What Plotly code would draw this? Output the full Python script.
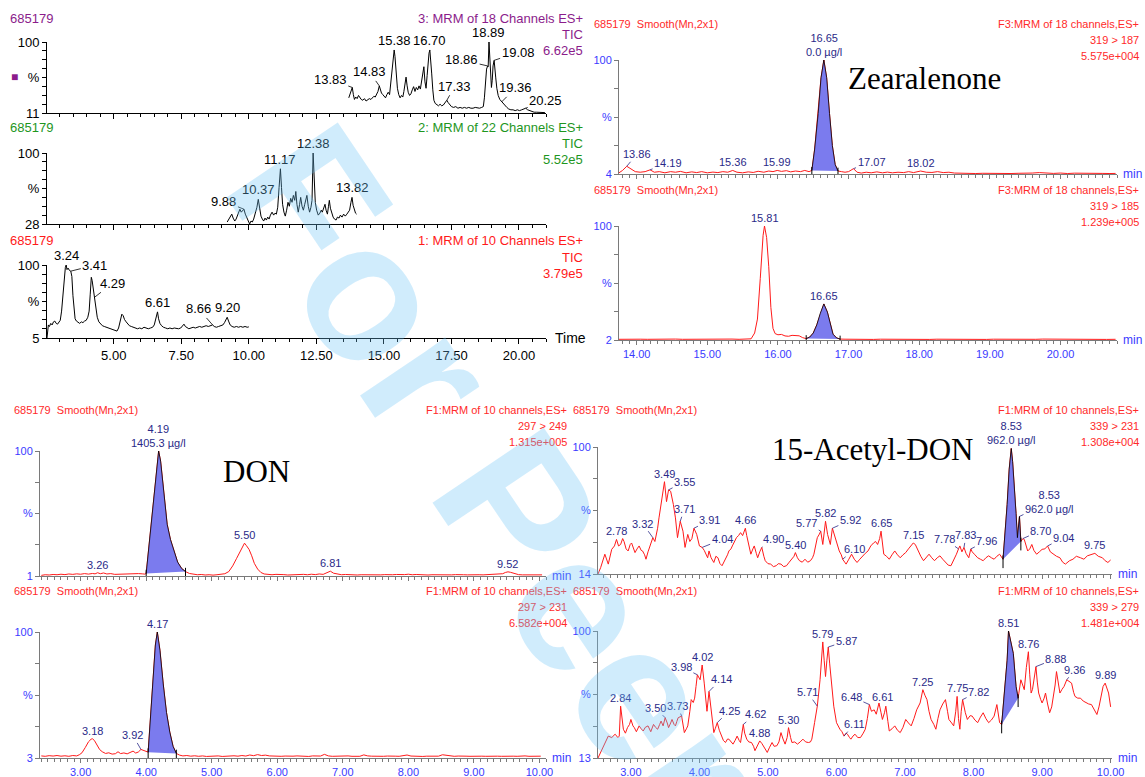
import plotly.graph_objects as go

W, H = 1145, 777

# ---------------- data (time in min, relative intensity %) ----------------
TIC3 = [(13.70,30),(13.75,36),(13.80,40),(13.83,43),(13.87,34),(13.91,28),(13.96,31),(14.01,29),(14.06,33),(14.11,30),
        (14.16,28),(14.22,27),(14.28,29),(14.34,26),(14.40,27),(14.46,29),(14.52,28),(14.58,30),(14.63,32),(14.68,31),
        (14.73,35),(14.78,38),(14.83,45),(14.87,40),(14.91,36),(14.96,34),(15.01,32),(15.06,30),(15.11,34),(15.16,37),
        (15.21,34),(15.26,50),(15.31,72),(15.35,86),(15.38,90),(15.41,82),(15.45,62),(15.50,42),(15.55,34),(15.60,30),
        (15.65,33),(15.70,31),(15.74,38),(15.78,50),(15.82,56),(15.86,45),(15.90,37),(15.95,33),(16.00,35),(16.05,40),
        (16.10,44),(16.15,38),(16.20,43),(16.25,40),(16.30,45),(16.35,41),(16.40,52),(16.44,64),(16.48,69),(16.52,50),
        (16.56,42),(16.60,58),(16.64,78),(16.67,86),(16.70,90),(16.73,80),(16.77,60),(16.81,40),(16.85,27),(16.90,23),
        (16.96,21),(17.02,20),(17.08,22),(17.14,20),(17.20,21),(17.26,24),(17.33,27),(17.38,24),(17.44,21),(17.50,19),
        (17.58,18),(17.66,19),(17.74,17),(17.82,18),(17.90,17),(17.98,18),(18.06,17),(18.14,18),(18.22,17),(18.30,17),
        (18.38,18),(18.46,17),(18.54,17),(18.62,18),(18.68,19),(18.72,30),(18.76,52),(18.80,66),(18.84,70),(18.86,69),
        (18.89,100),(18.92,80),(18.95,55),(18.98,43),(19.01,52),(19.04,70),(19.08,77),(19.11,62),(19.14,55),(19.18,42),
        (19.23,33),(19.29,28),(19.36,25),(19.42,23),(19.48,20),(19.55,18),(19.62,16),(19.70,15),(19.78,15),(19.86,14),
        (19.94,15),(20.02,14),(20.10,15),(20.18,16),(20.25,17),(20.32,15),(20.40,14),(20.48,13),(20.56,12),(20.64,12),
        (20.72,12),(20.80,11.5),(20.88,11.5),(20.96,11.5)]

TIC2 = [(9.20,30),(9.26,33),(9.32,36),(9.37,38),(9.42,34),(9.48,31),(9.53,33),(9.58,37),(9.63,42),(9.67,43),
        (9.72,40),(9.77,42),(9.82,43),(9.87,38),(9.93,34),(9.98,30),(10.03,28),(10.08,31),(10.13,30),(10.18,33),
        (10.24,38),(10.30,45),(10.35,53),(10.40,42),(10.45,36),(10.50,33),(10.55,31),(10.60,34),(10.65,32),(10.70,35),
        (10.75,33),(10.80,37),(10.86,40),(10.92,37),(10.97,39),(11.02,38),(11.07,45),(11.12,65),(11.17,84),(11.21,65),
        (11.25,48),(11.30,40),(11.35,36),(11.40,42),(11.45,50),(11.50,46),(11.55,54),(11.60,50),(11.65,57),(11.70,52),
        (11.74,61),(11.78,48),(11.83,40),(11.88,48),(11.92,55),(11.97,46),(12.02,42),(12.07,48),(12.11,52),(12.15,57),
        (12.20,46),(12.25,40),(12.30,45),(12.34,52),(12.38,100),(12.42,70),(12.46,50),(12.51,42),(12.57,37),(12.63,39),
        (12.68,42),(12.72,40),(12.77,44),(12.82,48),(12.86,42),(12.91,38),(12.95,46),(12.98,52),(13.02,44),(13.07,38),
        (13.12,35),(13.17,33),(13.23,32),(13.28,35),(13.34,34),(13.39,37),(13.45,35),(13.51,38),(13.57,36),(13.63,38),
        (13.68,40),(13.73,42),(13.78,50),(13.82,55),(13.86,47),(13.90,42),(13.95,39),(13.99,38)]

TIC1 = [(2.53,5),(2.55,20),(2.58,22),(2.62,20),(2.67,24),(2.72,22),(2.77,26),(2.82,27),(2.87,24),(2.92,23),
        (2.97,25),(3.02,28),(3.07,40),(3.12,62),(3.17,85),(3.21,97),(3.24,100),(3.27,94),(3.31,96),(3.36,93),
        (3.41,92),(3.45,85),(3.49,60),(3.53,42),(3.57,30),(3.62,27),(3.68,25),(3.74,24),(3.80,26),(3.86,25),
        (3.92,27),(3.98,28),(4.04,32),(4.09,40),(4.13,62),(4.17,84),(4.20,80),(4.24,70),(4.29,58),(4.34,45),
        (4.39,32),(4.45,26),(4.51,23),(4.58,21),(4.65,20),(4.72,19),(4.80,18),(4.88,17),(4.96,16),(5.04,15),
        (5.12,14),(5.18,18),(5.24,28),(5.30,36),(5.35,34),(5.40,29),(5.46,26),(5.52,24),(5.58,21),(5.65,20),
        (5.72,19),(5.80,18),(5.88,17),(5.96,18),(6.04,17),(6.12,19),(6.20,18),(6.28,17),(6.36,18),(6.44,19),
        (6.50,22),(6.55,30),(6.59,37),(6.62,39),(6.66,30),(6.71,24),(6.77,21),(6.84,19),(6.92,18),(7.00,17),
        (7.08,18),(7.16,17),(7.24,18),(7.32,17),(7.40,17),(7.48,18),(7.54,20),(7.60,23),(7.65,20),(7.71,18),
        (7.78,17),(7.86,18),(7.94,19),(8.02,18),(8.10,19),(8.18,20),(8.26,19),(8.34,20),(8.42,21),(8.50,20),
        (8.58,21),(8.66,22),(8.72,20),(8.80,19),(8.88,20),(8.96,21),(9.04,22),(9.10,25),(9.15,29),(9.20,32),
        (9.25,27),(9.31,22),(9.38,20),(9.46,19),(9.54,20),(9.62,19),(9.70,20),(9.78,19),(9.86,20),(9.94,19),(10.00,19.5)]

ZEA_187 = [(13.75,5),(13.80,7),(13.86,10.5),(13.92,8),(13.98,6),(14.05,5.5),(14.12,6),(14.19,7.5),(14.25,5.5),(14.32,6),
           (14.40,5),(14.48,6),(14.55,5.5),(14.62,6.2),(14.70,5),(14.78,5.8),(14.85,5.2),(14.92,6),(15.00,5),(15.08,5.6),
           (15.15,5.2),(15.22,6),(15.29,5.5),(15.36,7),(15.42,5.5),(15.50,5),(15.58,5.8),(15.65,5.3),(15.72,6.3),(15.80,5.5),
           (15.87,6.5),(15.93,6),(15.99,7),(16.05,6.2),(16.12,6.8),(16.18,5.8),(16.25,6.5),(16.32,6),(16.38,7),(16.44,6),
           (16.48,7),(16.52,25),(16.57,55),(16.61,85),(16.65,100),(16.69,85),(16.73,55),(16.77,28),(16.81,12),(16.85,6.5),
           (16.90,6),(16.95,5.5),(17.00,6),(17.07,8.5),(17.12,5.5),(17.18,4.8),(17.25,5.5),(17.32,5),(17.40,5.8),(17.48,5),
           (17.55,5.6),(17.62,5),(17.70,5.5),(17.78,5.2),(17.85,6),(17.92,5.2),(18.02,6.5),(18.10,5.5),(18.18,5.3),(18.26,6),
           (18.34,5.2),(18.42,5.5),(18.50,4.8),(18.60,4.5),(18.70,4.7),(18.80,4.4),(18.90,4.6),(19.00,4.4),(19.10,4.7),(19.20,4.5),
           (19.30,4.4),(19.40,4.6),(19.50,4.4),(19.60,4.8),(19.70,5.2),(19.80,4.6),(19.90,4.5),(20.00,4.8),(20.10,4.4),(20.20,4.7),
           (20.30,4.5),(20.40,4.6),(20.50,4.4),(20.60,4.5),(20.70,4.4),(20.78,4.5)]

ZEA_185 = [(13.75,2.6),(13.85,2.8),(13.95,2.5),(14.05,2.7),(14.15,2.6),(14.25,2.8),(14.35,2.5),(14.45,2.6),(14.55,2.8),(14.65,2.6),
           (14.75,2.7),(14.85,2.5),(14.95,2.6),(15.05,2.7),(15.15,2.5),(15.25,2.6),(15.35,2.8),(15.45,2.6),(15.55,2.7),(15.62,3.0),
           (15.67,8),(15.71,20),(15.75,55),(15.79,92),(15.81,100),(15.84,90),(15.87,65),(15.90,30),(15.93,12),(15.96,7.5),
           (16.00,6.5),(16.05,6.8),(16.10,5.5),(16.15,5.2),(16.20,6.0),(16.25,5.8),(16.30,5.6),(16.35,4.0),(16.40,3.2),(16.45,4.5),
           (16.50,8),(16.55,15),(16.60,25),(16.65,33),(16.70,26),(16.74,15),(16.78,7),(16.83,3.8),(16.88,2.8),(16.95,2.7),
           (17.05,2.5),(17.15,2.7),(17.25,2.6),(17.35,2.5),(17.45,2.7),(17.55,2.6),(17.65,2.5),(17.75,2.7),(17.85,2.6),(17.95,2.8),
           (18.05,2.6),(18.15,2.5),(18.25,2.7),(18.35,2.6),(18.45,2.8),(18.55,2.6),(18.65,2.5),(18.75,2.7),(18.85,2.6),(18.95,2.5),
           (19.05,2.7),(19.15,2.6),(19.25,2.5),(19.35,2.6),(19.45,2.7),(19.55,2.5),(19.65,2.6),(19.75,2.8),(19.85,2.7),(19.95,2.9),
           (20.05,2.6),(20.15,2.8),(20.25,2.6),(20.35,2.7),(20.45,2.5),(20.55,2.6),(20.65,2.5),(20.78,2.6)]

DON_249 = [(2.40,1.5),(2.46,2.0),(2.52,1.8),(2.58,2.2),(2.64,2.0),(2.70,2.4),(2.76,2.1),(2.82,2.6),(2.88,2.3),(2.94,2.7),
           (3.00,2.4),(3.06,2.9),(3.12,2.5),(3.18,3.0),(3.22,2.7),(3.26,3.6),(3.30,2.8),(3.35,3.4),(3.40,2.6),(3.46,2.9),
           (3.52,2.3),(3.58,2.5),(3.64,2.2),(3.70,2.6),(3.76,2.8),(3.82,3.2),(3.88,2.9),(3.94,2.7),(3.98,2.5),(4.00,3.0),
           (4.05,28),(4.10,55),(4.15,82),(4.19,100),(4.22,92),(4.27,64),(4.32,42),(4.37,30),(4.42,21),(4.48,12),
           (4.54,7),(4.60,4.5),(4.66,3.0),(4.72,2.5),(4.78,2.0),(4.84,2.2),(4.90,1.8),(4.96,2.0),(5.02,1.7),(5.08,2.0),
           (5.14,2.3),(5.20,2.8),(5.26,4.5),(5.32,9),(5.38,15),(5.44,21),(5.48,26),(5.50,27),(5.53,25),(5.57,22),
           (5.61,17),(5.65,11),(5.70,6.5),(5.75,3.8),(5.80,2.6),(5.86,2.2),(5.92,2.0),(5.98,2.3),(6.04,1.9),(6.10,2.1),
           (6.16,1.8),(6.22,2.0),(6.28,2.2),(6.34,1.9),(6.40,2.3),(6.46,2.0),(6.52,2.4),(6.58,2.1),(6.64,2.6),(6.70,2.3),
           (6.76,3.5),(6.81,4.8),(6.86,3.2),(6.92,2.3),(6.98,2.0),(7.04,2.2),(7.10,1.9),(7.16,2.1),(7.22,1.8),(7.28,2.0),
           (7.34,1.9),(7.40,2.1),(7.46,1.8),(7.52,2.0),(7.58,1.9),(7.64,2.1),(7.70,1.8),(7.76,2.0),(7.82,2.2),(7.88,1.9),
           (7.94,2.1),(8.00,2.4),(8.06,2.0),(8.12,2.2),(8.18,1.9),(8.24,2.1),(8.30,1.8),(8.36,2.0),(8.42,1.9),(8.48,2.1),
           (8.54,1.8),(8.60,2.0),(8.66,1.9),(8.72,2.1),(8.78,1.8),(8.84,2.0),(8.90,1.9),(8.96,2.1),(9.02,1.8),(9.08,2.0),
           (9.14,1.9),(9.20,2.1),(9.26,1.9),(9.32,2.0),(9.38,2.2),(9.44,2.8),(9.48,3.8),(9.52,4.3),(9.56,3.9),(9.62,2.7),
           (9.68,2.1),(9.74,1.9),(9.80,2.0),(9.86,1.8),(9.92,2.0),(9.98,1.7),(10.04,1.9)]

DON_231 = [(2.40,4.6),(2.46,4.3),(2.52,4.8),(2.58,4.5),(2.64,4.9),(2.70,4.4),(2.76,4.7),(2.82,4.3),(2.88,4.9),(2.94,4.6),
           (2.98,5.5),(3.02,7),(3.07,11),(3.12,15.5),(3.16,17.5),(3.18,17.8),(3.21,16.5),(3.25,13),(3.29,9.5),(3.33,7.8),
           (3.38,6.5),(3.43,7),(3.48,6.0),(3.53,6.3),(3.57,7.8),(3.61,6.4),(3.66,6.9),(3.71,6.2),(3.76,7.2),(3.80,8.3),
           (3.84,6.8),(3.88,7.6),(3.92,9.6),(3.96,8.8),(4.00,7.5),(4.03,7.5),(4.06,30),(4.10,62),(4.14,90),(4.17,100),
           (4.21,86),(4.26,60),(4.31,38),(4.36,23),(4.41,12),(4.46,6.5),(4.51,5.2),(4.56,4.6),(4.62,4.9),(4.68,4.4),
           (4.74,4.7),(4.80,4.3),(4.86,4.6),(4.92,4.2),(4.98,4.5),(5.04,4.3),(5.10,4.6),(5.16,4.2),(5.22,4.5),(5.28,4.3),
           (5.34,4.7),(5.40,4.4),(5.46,4.9),(5.52,4.5),(5.58,5.3),(5.64,4.8),(5.70,5.6),(5.76,4.9),(5.82,5.2),(5.88,4.6),
           (5.94,4.4),(6.00,4.6),(6.06,4.3),(6.12,4.5),(6.18,4.2),(6.24,4.4),(6.30,4.6),(6.36,4.3),(6.42,4.5),(6.48,4.2),
           (6.54,4.6),(6.60,4.3),(6.66,4.5),(6.72,5.8),(6.78,4.6),(6.84,4.3),(6.90,4.5),(6.96,4.2),(7.02,4.4),(7.08,4.6),
           (7.14,4.3),(7.20,4.5),(7.26,4.3),(7.32,5.4),(7.38,4.6),(7.44,4.4),(7.50,4.2),(7.56,4.5),(7.62,4.3),(7.68,4.5),
           (7.74,4.2),(7.80,4.4),(7.86,4.3),(7.92,4.6),(7.98,5.3),(8.04,4.5),(8.10,4.3),(8.16,4.5),(8.22,4.2),(8.28,4.4),
           (8.34,4.3),(8.40,4.6),(8.46,4.4),(8.52,5.5),(8.58,5.1),(8.64,4.6),(8.70,4.3),(8.76,4.5),(8.82,4.2),(8.88,4.4),
           (8.94,4.3),(9.00,4.5),(9.06,4.2),(9.12,4.4),(9.18,4.3),(9.24,4.5),(9.30,4.2),(9.36,4.4),(9.42,4.3),(9.48,4.5),
           (9.54,4.2),(9.60,4.4),(9.66,4.3),(9.72,4.5),(9.78,4.6),(9.84,4.3),(9.90,4.4),(9.96,4.2),(10.02,4.4)]

ADON_231 = [(2.52,14),(2.56,18.5),(2.62,27.4),(2.67,20.7),(2.72,30.7),(2.76,33),(2.79,37.4),(2.82,33),(2.85,34),(2.88,38),
            (2.90,36),(2.93,31),(2.96,29.6),(2.99,34),(3.01,35),(3.04,31),(3.06,28.5),(3.09,31),(3.12,33),(3.15,30),
            (3.17,29.6),(3.20,27),(3.22,24),(3.25,29),(3.27,32),(3.30,35),(3.32,38.6),(3.35,36),(3.37,40),(3.39,45),
            (3.41,52),(3.43,58.7),(3.46,67.6),(3.49,76.5),(3.52,63),(3.55,71),(3.58,70),(3.60,66),(3.62,61),(3.65,52),
            (3.68,38.6),(3.72,49.7),(3.76,43),(3.79,32),(3.83,40.8),(3.86,36),(3.89,38),(3.92,45),(3.96,40.8),(4.00,33),
            (4.04,32),(4.07,30),(4.09,27.4),(4.12,25),(4.14,29.6),(4.17,25),(4.21,21.8),(4.24,26),(4.27,25),(4.30,21),
            (4.33,19.6),(4.36,22),(4.38,24),(4.41,27),(4.43,29.6),(4.46,31),(4.48,33),(4.51,36),(4.54,38.6),(4.57,40),
            (4.60,42),(4.63,40),(4.67,45),(4.69,40),(4.71,36),(4.73,30),(4.75,27.4),(4.78,31),(4.80,33),(4.83,28),
            (4.85,25),(4.88,29),(4.91,32),(4.94,26),(4.96,23),(5.00,21),(5.04,20.7),(5.08,19),(5.12,19.6),(5.15,21),
            (5.19,20.7),(5.23,19),(5.27,19.6),(5.31,22),(5.35,24),(5.38,26),(5.40,28.5),(5.43,25),(5.46,23),(5.50,22),
            (5.54,24),(5.58,22),(5.62,23),(5.65,25),(5.67,27.4),(5.70,33),(5.72,38.6),(5.75,41),(5.77,43),(5.80,34),
            (5.82,42),(5.84,49.7),(5.87,40.8),(5.89,37),(5.91,34),(5.94,45),(5.96,42),(5.98,38.6),(6.01,34),(6.04,29.6),
            (6.07,27),(6.09,24),(6.12,22),(6.14,20.7),(6.18,24),(6.22,27.4),(6.26,24),(6.30,21.8),(6.34,24),(6.38,26.3),
            (6.42,28),(6.46,29.6),(6.50,33),(6.54,35),(6.57,36),(6.60,34),(6.63,38),(6.65,43),(6.67,35),(6.69,27.4),
            (6.73,26),(6.77,24),(6.81,27),(6.85,29.6),(6.89,27),(6.93,25),(6.97,27),(7.01,28.5),(7.05,31),(7.09,33),
            (7.12,35),(7.15,34),(7.17,32),(7.19,29.6),(7.23,26),(7.27,23),(7.31,25),(7.35,27.4),(7.39,25),(7.43,23),
            (7.47,25),(7.51,26.3),(7.55,24),(7.59,21.8),(7.63,20),(7.67,19.6),(7.71,23),(7.75,27.4),(7.78,31),(7.80,33),
            (7.83,29),(7.86,32),(7.89,28),(7.93,25),(7.96,31),(7.98,29),(8.02,27),(8.06,25),(8.10,24),(8.14,23),
            (8.18,25),(8.22,26.3),(8.26,25),(8.30,24),(8.34,26),(8.38,27.4),(8.43,24),(8.46,42),(8.49,61),(8.52,85),
            (8.55,99),(8.57,90),(8.60,72),(8.62,55),(8.64,38.6),(8.67,53),(8.69,36),(8.72,38),(8.74,37.4),(8.77,33),
            (8.79,29.6),(8.82,31),(8.85,34),(8.88,30),(8.92,27.4),(8.96,29),(9.00,30.7),(9.04,31),(9.08,33),(9.12,29),
            (9.16,27.4),(9.21,26),(9.26,25),(9.30,22),(9.34,20.7),(9.40,23),(9.45,24),(9.50,26),(9.56,25),(9.61,24),
            (9.66,26.3),(9.72,27),(9.77,28),(9.82,26),(9.88,25),(9.92,23),(9.96,21.8),(10.00,23.5)]

ADON_279 = [(2.52,13),(2.56,16.8),(2.62,23.6),(2.67,28),(2.72,27),(2.77,29.3),(2.81,27),(2.83,28),(2.85,48.5),(2.87,38),
            (2.89,32.7),(2.92,30),(2.95,33.8),(2.98,36),(3.00,39.4),(3.03,35),(3.05,33.8),(3.08,31),(3.12,35),(3.15,33),
            (3.18,31.5),(3.21,34),(3.25,35),(3.29,31),(3.33,36),(3.36,34),(3.39,32.7),(3.42,36),(3.44,38.3),(3.47,35),
            (3.50,40.6),(3.53,37),(3.55,33.8),(3.58,37),(3.60,39.4),(3.63,36),(3.65,35),(3.67,38),(3.69,40.6),(3.74,41.7),
            (3.76,35),(3.78,30.4),(3.81,33),(3.83,35),(3.86,45),(3.88,53),(3.91,51),(3.93,54),(3.95,62),(3.97,70),
            (4.01,66.6),(4.04,76.7),(4.07,64.3),(4.09,52),(4.11,45),(4.14,58.6),(4.16,50),(4.18,44),(4.21,30.4),(4.23,33),
            (4.26,37.2),(4.29,32),(4.32,28),(4.35,25),(4.38,23.6),(4.41,26),(4.43,25.9),(4.46,24),(4.49,22.5),(4.52,25),
            (4.55,28),(4.58,25),(4.60,23.6),(4.64,36),(4.66,30),(4.69,25.9),(4.72,24),(4.76,23.6),(4.79,21),(4.81,18),
            (4.85,22),(4.88,24.7),(4.91,23),(4.93,21.4),(4.96,19),(4.99,16.8),(5.02,20),(5.06,23.6),(5.09,21),(5.13,21.4),
            (5.16,24),(5.19,30.4),(5.22,26),(5.25,22.5),(5.28,27),(5.30,33.8),(5.33,27),(5.35,23.6),(5.39,24),(5.43,22.5),
            (5.47,24),(5.51,25.9),(5.55,24),(5.59,23.6),(5.62,24),(5.64,25.9),(5.68,37.2),(5.70,42),(5.72,48.5),(5.76,66.6),
            (5.78,82),(5.80,92.5),(5.82,80),(5.84,68.8),(5.86,80),(5.88,89),(5.90,78),(5.92,66.6),(5.94,56),(5.96,48.5),
            (6.00,37.2),(6.02,35),(6.05,32.7),(6.08,31),(6.11,28),(6.14,30),(6.16,29.3),(6.19,27),(6.21,25.9),(6.24,28),
            (6.27,29.3),(6.31,27),(6.35,27),(6.39,30),(6.42,32.7),(6.45,40),(6.48,49.6),(6.51,45),(6.55,46),(6.58,43),
            (6.62,50.7),(6.65,44),(6.67,39.4),(6.70,44),(6.72,48.5),(6.75,38),(6.77,31.5),(6.81,33),(6.85,35),(6.89,32),
            (6.93,30.4),(6.97,34),(7.01,39.4),(7.05,37),(7.09,35),(7.13,40),(7.17,46),(7.22,50.7),(7.26,59.8),(7.29,56),
            (7.32,53),(7.35,45),(7.38,39.4),(7.42,36),(7.45,32.7),(7.48,40),(7.51,46),(7.55,50),(7.59,53),(7.62,45),
            (7.64,39.4),(7.68,37),(7.71,35),(7.74,45),(7.76,55.2),(7.78,40),(7.80,32.7),(7.82,45),(7.84,53),(7.88,44),
            (7.91,39.4),(7.95,42),(7.98,41.7),(8.02,39),(8.06,37.2),(8.10,41),(8.14,44),(8.18,40),(8.22,37.2),(8.26,39),
            (8.30,41.7),(8.34,49.6),(8.38,37.2),(8.41,36),(8.46,66.6),(8.49,80),(8.51,100),(8.54,94),(8.58,84.6),(8.62,62),
            (8.65,54),(8.69,66.6),(8.72,63),(8.74,59.8),(8.77,75),(8.80,85.8),(8.82,70),(8.84,57.5),(8.86,60),(8.88,66.6),
            (8.91,75.6),(8.93,65),(8.95,57.5),(8.98,53),(9.00,50.7),(9.03,54),(9.05,57.5),(9.08,50),(9.11,44),(9.14,48),
            (9.16,53),(9.19,63),(9.21,72.2),(9.24,64),(9.26,57.5),(9.29,60),(9.32,62),(9.36,66.6),(9.40,65),(9.43,64.3),
            (9.46,58),(9.48,55.2),(9.52,54),(9.56,54),(9.60,52),(9.64,50.7),(9.68,50),(9.72,49.6),(9.76,46),(9.80,42.8),
            (9.83,48),(9.86,55.2),(9.89,62),(9.92,64.3),(9.95,60),(9.97,57.5),(10.00,48)]

# integrated peak windows (start, end) in minutes
WIN_ZEA_187 = (16.48, 16.85)
WIN_ZEA_185 = (16.40, 16.88)
WIN_DON_249 = (4.00, 4.60)
WIN_DON_231 = (4.03, 4.46)
WIN_ADON_231 = (8.43, 8.69)
WIN_ADON_279 = (8.41, 8.65)

# peak labels: (text, time, pixel dx, pixel dy) ; (0, 0) = printed straight above
LBL_TIC3 = [("13.83", 13.83, -22, -8), ("14.83", 14.83, -10, -14), ("15.38", 15.38, 0, 0), ("16.70", 16.70, 0, 0),
            ("18.89", 18.89, 0, 0), ("18.86", 18.84, -26, -6), ("19.08", 19.08, 24, -8), ("17.33", 17.33, 8, -14),
            ("19.36", 19.36, 14, -14), ("20.25", 20.25, 20, -8)]
LBL_TIC2 = [("9.88", 9.82, -20, -8), ("10.37", 10.35, 0, 0), ("11.17", 11.17, 0, 0), ("12.38", 12.38, 0, 0),
            ("13.82", 13.82, 0, 0)]
LBL_TIC1 = [("3.24", 3.24, 0, 0), ("3.41", 3.41, 24, -6), ("4.29", 4.29, 18, -14), ("6.61", 6.62, 0, 0),
            ("8.66", 8.66, -14, -16), ("9.20", 9.20, 0, 0)]
LBL_ZEA_187 = [("16.65<br>0.0 µg/l", 16.65, 0, 0), ("13.86", 13.86, 10, -12), ("14.19", 14.19, 18, -7),
               ("15.36", 15.36, 0, 0), ("15.99", 15.99, 0, 0), ("17.07", 17.07, 18, -7), ("18.02", 18.02, 0, 0)]
LBL_ZEA_185 = [("15.81", 15.81, 0, 0), ("16.65", 16.65, 0, 0)]
LBL_DON_249 = [("4.19<br>1405.3 µg/l", 4.19, 0, 0), ("3.26", 3.26, 0, 0), ("5.50", 5.50, 0, 0),
               ("6.81", 6.81, 0, 0), ("9.52", 9.52, 0, 0)]
LBL_DON_231 = [("4.17", 4.17, 0, 0), ("3.18", 3.18, 0, 0), ("3.92", 3.92, -8, -14)]
LBL_ADON_231 = [("2.78", 2.79, 0, 0), ("3.32", 3.32, -10, -14), ("3.49", 3.49, 0, 0), ("3.55", 3.55, 16, -8),
                ("3.71", 3.72, 4, -12), ("3.91", 3.92, 16, -8), ("4.04", 4.04, 20, -8), ("4.66", 4.67, 0, 0),
                ("4.90", 4.91, 12, -8), ("5.40", 5.40, 0, 0), ("5.77", 5.77, -14, -8), ("5.82", 5.84, 0, 0),
                ("5.92", 5.94, 18, -8), ("6.10", 6.09, 12, -10), ("6.65", 6.65, 0, 0), ("7.15", 7.12, 0, 0),
                ("7.78", 7.78, -14, -10), ("7.83", 7.86, 2, -12), ("7.96", 7.96, 16, -8),
                ("8.53<br>962.0 µg/l", 8.55, 0, 0), ("8.53<br>962.0 µg/l", 8.67, 30, -14),
                ("8.70", 8.72, 18, -8), ("9.04", 9.08, 16, -8), ("9.75", 9.77, 0, 0)]
LBL_ADON_279 = [("2.84", 2.85, 0, 0), ("3.50", 3.50, -10, -10), ("3.73", 3.74, -4, -10), ("3.98", 3.97, -16, -8),
                ("4.02", 4.04, 0, 0), ("4.14", 4.14, 12, -12), ("4.25", 4.26, 12, -12), ("4.62", 4.64, 12, -10),
                ("4.88", 4.88, 0, 0), ("5.30", 5.30, 0, 0), ("5.71", 5.72, -10, -14), ("5.79", 5.80, 0, 0),
                ("5.87", 5.88, 18, -6), ("6.11", 6.11, 10, -12), ("6.48", 6.48, -18, -8), ("6.61", 6.62, 4, -6),
                ("7.25", 7.26, 0, 0), ("7.75", 7.76, 0, 0), ("7.82", 7.84, 16, -8), ("8.51", 8.51, 0, 0),
                ("8.76", 8.80, 0, 0), ("8.88", 8.91, 20, -8), ("9.36", 9.36, 8, -10), ("9.89", 9.92, 0, 0)]

# ---------------- styles ----------------
SANS = "Liberation Sans, Arial, sans-serif"
SERIF = "Liberation Serif, Times New Roman, serif"
RED = "#ff1a1a"
HDR_RED = "#ff2a2a"
NAVY = "#2a2a88"
AXBLUE = "#3a3aff"
GREY = "#7a7a7a"
PURPLE = "#8b1c8b"
GREEN = "#1e961e"
FILL = "#7b7bee"


def px(x):
    return x / W


def py(y):
    return 1 - y / H


# panel layout: pixel box (left, right, top, bottom), x range, y min
PANELS = [
    dict(data=TIC3, box=(47, 546, 42, 113), xr=(2.53, 21.0), ymin=11, kind="tic", xlab=False, lbl=LBL_TIC3),
    dict(data=TIC2, box=(47, 546, 153, 224), xr=(2.53, 21.0), ymin=28, kind="tic", xlab=False, lbl=LBL_TIC2),
    dict(data=TIC1, box=(47, 546, 265, 338), xr=(2.53, 21.0), ymin=5, kind="tic", xlab=True, lbl=LBL_TIC1),
    dict(data=ZEA_187, box=(619, 1117, 60, 174), xr=(13.75, 20.8), ymin=4, kind="ms", xlab=False,
         lbl=LBL_ZEA_187, win=WIN_ZEA_187),
    dict(data=ZEA_185, box=(619, 1117, 226, 340), xr=(13.75, 20.8), ymin=2, kind="ms", xlab=True,
         lbl=LBL_ZEA_185, win=WIN_ZEA_185),
    dict(data=DON_249, box=(40, 546, 451, 576), xr=(2.38, 10.1), ymin=1, kind="ms", xlab=False,
         lbl=LBL_DON_249, win=WIN_DON_249),
    dict(data=DON_231, box=(40, 546, 632, 758), xr=(2.38, 10.1), ymin=3, kind="ms", xlab=True,
         lbl=LBL_DON_231, win=WIN_DON_231),
    dict(data=ADON_231, box=(598, 1112, 447, 574), xr=(2.52, 10.02), ymin=14, kind="ms", xlab=False,
         lbl=LBL_ADON_231, win=WIN_ADON_231),
    dict(data=ADON_279, box=(598, 1112, 631, 758), xr=(2.52, 10.02), ymin=13, kind="ms", xlab=True,
         lbl=LBL_ADON_279, win=WIN_ADON_279),
]

fig = go.Figure()
annotations = []
layout = {}


def lookup(series, t):
    return min(series, key=lambda p: abs(p[0] - t))[1]


for i, p in enumerate(PANELS, 1):
    sx = "" if i == 1 else str(i)
    xref, yref = "x" + sx, "y" + sx
    L, R, T, B = p["box"]
    tic = p["kind"] == "tic"
    axcol = "black" if tic else GREY
    labcol = "black" if tic else AXBLUE
    fsz = 13 if tic else 11
    ymin = p["ymin"]
    n = 9 if tic else 5
    tv = [ymin + k * (100 - ymin) / (n - 1) for k in range(n)]
    tt = [""] * n
    tt[0], tt[n // 2], tt[-1] = str(ymin), "%", "100"

    layout["xaxis" + sx] = dict(
        domain=[px(L), px(R)], anchor=yref, range=list(p["xr"]), showgrid=False, zeroline=False,
        automargin=False, showline=True, linecolor=axcol, linewidth=1, ticks="outside", tickcolor=axcol,
        ticklen=5 if tic else 4, tick0=0, dtick=2.5 if tic else 1, tickformat=".2f",
        showticklabels=p["xlab"], tickfont=dict(family=SANS, size=fsz, color=labcol),
        minor=dict(ticks="outside", ticklen=3, tick0=0, dtick=0.5 if tic else 0.1, tickcolor=axcol, showgrid=False),
        fixedrange=True)
    layout["yaxis" + sx] = dict(
        domain=[py(B), py(T)], anchor=xref, range=[ymin, 100], showgrid=False, zeroline=False,
        automargin=False, showline=True, linecolor=axcol, linewidth=1, ticks="outside", tickcolor=axcol,
        ticklen=4, tickvals=tv, ticktext=tt, tickfont=dict(family=SANS, size=fsz, color=labcol), fixedrange=True)

    xs = [q[0] for q in p["data"]]
    ys = [q[1] for q in p["data"]]
    fig.add_trace(go.Scatter(x=xs, y=ys, mode="lines", xaxis=xref, yaxis=yref, cliponaxis=False,
                             line=dict(color="black" if tic else RED, width=1), hoverinfo="skip",
                             showlegend=False))

    if "win" in p:
        t0, t1 = p["win"]
        seg = [q for q in p["data"] if t0 <= q[0] <= t1]
        fig.add_trace(go.Scatter(x=[q[0] for q in seg], y=[q[1] for q in seg], mode="lines", fill="toself",
                                 fillcolor=FILL, line=dict(color="black", width=0.8), xaxis=xref, yaxis=yref,
                                 cliponaxis=False, hoverinfo="skip", showlegend=False))
        rng = 100 - ymin
        v0, v1 = seg[0][1], seg[-1][1]
        fig.add_trace(go.Scatter(x=[t0, t0, None, t1, t1],
                                 y=[v0 + 0.03 * rng, v0 - 0.07 * rng, None, v1 + 0.03 * rng, v1 - 0.07 * rng],
                                 mode="lines", line=dict(color="black", width=1), xaxis=xref, yaxis=yref,
                                 cliponaxis=False, hoverinfo="skip", showlegend=False))

    lcol = "black" if tic else NAVY
    lsz = 13 if tic else 11
    for text, t, dx, dy in p["lbl"]:
        v = lookup(p["data"], t)
        if dx == 0 and dy == 0:
            annotations.append(dict(text=text, x=t, y=v, xref=xref, yref=yref, showarrow=False,
                                    yanchor="bottom", yshift=0, font=dict(family=SANS, size=lsz, color=lcol)))
        else:
            annotations.append(dict(text=text, x=t, y=v, xref=xref, yref=yref, showarrow=True, arrowhead=0,
                                    arrowwidth=0.8, arrowcolor=lcol, ax=dx, ay=dy, standoff=0,
                                    font=dict(family=SANS, size=lsz, color=lcol)))

    if not tic:
        annotations.append(dict(text="min", x=px(R + 4), y=py(B), xref="paper", yref="paper", showarrow=False,
                                xanchor="left", yanchor="middle", font=dict(family=SANS, size=12, color=AXBLUE)))


def note(text, x, y, size=11, color=HDR_RED, xanchor="left", family=SANS):
    annotations.append(dict(text=text, x=px(x), y=py(y), xref="paper", yref="paper", showarrow=False,
                            xanchor=xanchor, yanchor="middle", font=dict(family=family, size=size, color=color)))


# top-left TIC headers
for (col, title, scale, yy) in [(PURPLE, "3: MRM of 18 Channels ES+", "6.62e5", 19),
                                (GREEN, "2: MRM of 22 Channels ES+", "5.52e5", 128),
                                (RED, "1: MRM of 10 Channels ES+", "3.79e5", 241)]:
    note("685179", 8, yy, 13, col)
    note(title, 585, yy, 13, col, "right")
    note("TIC", 585, yy + 16, 13, col, "right")
    note(scale, 585, yy + 32, 13, col, "right")
note("■", 9, 77, 12, PURPLE)
note("Time", 553, 338, 14, "black")

# MS panel headers
for (x0, x1, yy, tr, mrm, sc) in [(592, 1141, 24, "319 > 187", "F3:MRM of 18 channels,ES+", "5.575e+004"),
                                  (592, 1141, 190, "319 > 185", "F3:MRM of 18 channels,ES+", "1.239e+005"),
                                  (12, 569, 410, "297 > 249", "F1:MRM of 10 channels,ES+", "1.315e+005"),
                                  (12, 569, 591, "297 > 231", "F1:MRM of 10 channels,ES+", "6.582e+004"),
                                  (571, 1141, 410, "339 > 231", "F1:MRM of 10 channels,ES+", "1.308e+004"),
                                  (571, 1141, 591, "339 > 279", "F1:MRM of 10 channels,ES+", "1.481e+004")]:
    note("685179  Smooth(Mn,2x1)", x0, yy, 11)
    note(mrm, x1, yy, 11, HDR_RED, "right")
    note(tr, x1, yy + 16, 11, HDR_RED, "right")
    note(sc, x1, yy + 32, 11, HDR_RED, "right")

# compound names
note("Zearalenone", 924, 78, 31, "black", "center", SERIF)
note("DON", 256, 471, 31, "black", "center", SERIF)
note("15-Acetyl-DON", 872, 450, 31, "black", "center", SERIF)

# watermark (large, diagonal, running off the bottom of the page)
annotations.append(dict(text="<b>For Peer Review</b>", x=px(700), y=py(778), xref="paper", yref="paper",
                        showarrow=False, textangle=56, xanchor="center", yanchor="middle",
                        font=dict(family=SANS, size=195, color="rgba(110,195,245,0.32)")))

fig.update_layout(template="none", width=W, height=H, margin=dict(l=0, r=0, t=0, b=0, pad=0),
                  paper_bgcolor="white", plot_bgcolor="rgba(0,0,0,0)", showlegend=False,
                  annotations=annotations, **layout)

fig.write_html("out.html", config={"displayModeBar": False, "staticPlot": True},
               post_script="document.body.style.margin='0';")
